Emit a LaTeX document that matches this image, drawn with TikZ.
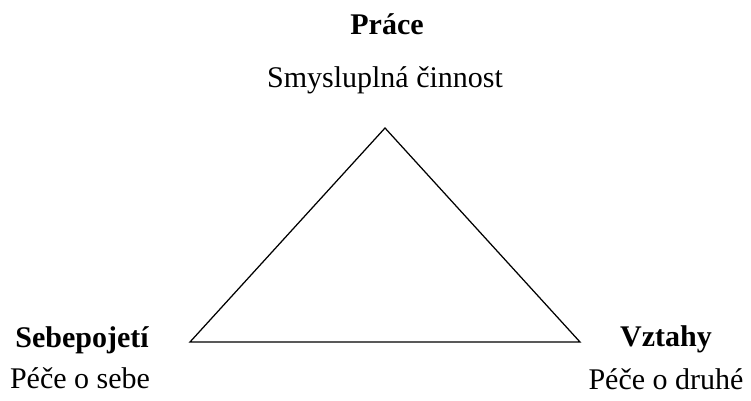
\documentclass[tikz,border=0pt]{standalone}
\usepackage{fontspec}
\setmainfont{Liberation Serif}
\usetikzlibrary{positioning}

\begin{document}
\begin{tikzpicture}[x=0.4pt,y=-0.4pt,
    every node/.style={font=\fontsize{12}{14}\selectfont, anchor=base, inner sep=0pt},
    title/.style={font=\fontsize{12}{14}\selectfont\bfseries}]
    \useasboundingbox (0,0) rectangle (751,400);
    % corners of the triangle
    \coordinate (top) at (385,128);
    \coordinate (left) at (190,342);
    \coordinate (right) at (580,342);
    \draw[line width=0.5pt] (top) -- (right) -- (left) -- cycle;

    \node[title] (prace) at (387,34) {Práce};
    \node (cinnost) at (385,87) {Smysluplná činnost};
    \node[title] (sebe) at (82,347) {Sebepojetí};
    \node (pecesebe) at (80,388) {Péče o sebe};
    \node[title] (vztahy) at (666,346) {Vztahy};
    \node (pecedruhe) at (666,389) {Péče o druhé};
\end{tikzpicture}
\end{document}
